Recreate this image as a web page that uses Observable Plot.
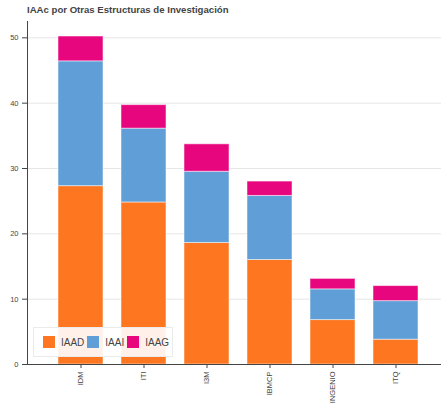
<!DOCTYPE html>
<html>
<head>
<meta charset="utf-8">
<script src="https://cdn.jsdelivr.net/npm/d3@7"></script>
<script src="https://cdn.jsdelivr.net/npm/@observablehq/plot@0.6"></script>
<style>
  html, body { margin: 0; padding: 0; background: #fff; }
  #wrap { position: relative; width: 441px; height: 419px; font-family: "Liberation Sans", Arial, sans-serif; }
  #title { height: 20px; line-height: 20px; padding-left: 27px; font-size: 9.6px; font-weight: bold; color: #444; box-sizing: border-box; padding-top: 0px; }
  #legend { position: absolute; left: 33px; top: 327px; width: 140px; height: 30px; background: rgba(255,255,255,0.9); border: 1px solid #ebebeb; box-sizing: border-box; display: flex; align-items: center; padding-left: 9px; font-size: 10px; color: #444; }
  #legend .item { display: flex; align-items: center; margin-right: 3px; }
  #legend .sw { width: 12px; height: 12px; margin-right: 6px; }
</style>
</head>
<body>
<div id="wrap">
  <div id="title">IAAc por Otras Estructuras de Investigación</div>
  <div id="chart"></div>
  <div id="legend"></div>
</div>
<script>
const categories = ["IDM", "ITI", "I3M", "IBMCP", "INGENIO", "ITQ"];
const seriesNames = ["IAAD", "IAAI", "IAAG"];
const IAAD = [27.3, 24.8, 18.6, 16.0, 6.8, 3.8];
const IAAI = [19.1, 11.3, 10.9, 9.8, 4.7, 5.9];
const IAAG = [3.8, 3.6, 4.2, 2.2, 1.6, 2.3];
const seriesColors = ["#fe7620", "#5f9ed6", "#e8067e"];
const yTicks = [0, 10, 20, 30, 40, 50];

const seriesValues = {IAAD, IAAI, IAAG};
const data = [];
seriesNames.forEach(s => {
  categories.forEach((c, i) => data.push({category: c, series: s, value: seriesValues[s][i]}));
});

const plot = Plot.plot({
  width: 441,
  height: 399,
  marginLeft: 27,
  marginRight: 0,
  marginTop: 1,
  marginBottom: 55,
  style: {fontFamily: "'Liberation Sans', Arial, sans-serif", fontSize: "7.5px", color: "#444", background: "transparent"},
  x: {domain: categories, paddingInner: 0.29, paddingOuter: 0.38, align: 0.58, label: null},
  y: {domain: [0, 52.5], label: null},
  color: {domain: seriesNames, range: seriesColors},
  marks: [
    Plot.gridY(yTicks, {stroke: "#e6e6e6", strokeOpacity: 1}),
    Plot.barY(data, Plot.stackY({order: seriesNames}, {x: "category", y: "value", fill: "series", stroke: "white", strokeOpacity: 0.5, strokeWidth: 1})),
    Plot.axisY(yTicks, {tickSize: 5, tickPadding: 4, label: null, stroke: "#444"}),
    Plot.axisX({tickSize: 4, tickPadding: 3, tickRotate: -90, label: null, stroke: "#444"}),
    Plot.frame({anchor: "left", stroke: "#444"}),
    Plot.ruleY([0], {stroke: "#444"})
  ]
});
document.getElementById("chart").appendChild(plot);

const color = plot.scale("color");
const legend = document.getElementById("legend");
color.domain.forEach((name, i) => {
  const item = document.createElement("div");
  item.className = "item";
  const sw = document.createElement("div");
  sw.className = "sw";
  sw.style.background = color.range[i];
  const lab = document.createElement("span");
  lab.textContent = name;
  item.appendChild(sw);
  item.appendChild(lab);
  legend.appendChild(item);
});
</script>
</body>
</html>
